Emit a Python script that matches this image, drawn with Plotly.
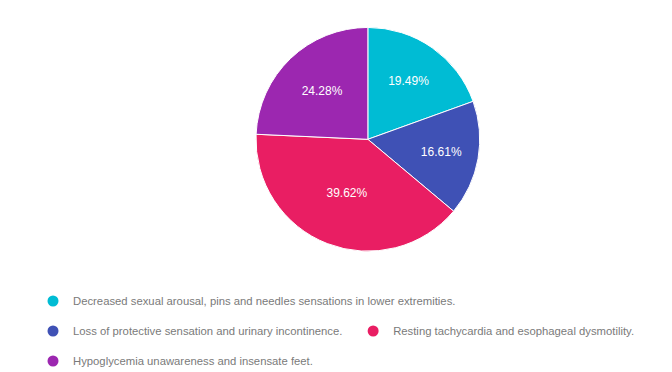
import plotly.graph_objects as go

labels = [
    "Decreased sexual arousal, pins and needles sensations in lower extremities.",
    "Loss of protective sensation and urinary incontinence.",
    "Resting tachycardia and esophageal dysmotility.",
    "Hypoglycemia unawareness and insensate feet.",
]
values = [19.49, 16.61, 39.62, 24.28]
colors = ["#00BCD4", "#3F51B5", "#E91E63", "#9C27B0"]

legend_names = ["legend", "legend2", "legend3", "legend4"]
legend_pos = [(0.0372, 0.2124), (0.0372, 0.1317), (0.5136, 0.1317), (0.0372, 0.0511)]

fig = go.Figure()
fig.add_trace(go.Pie(
    labels=labels,
    values=values,
    marker=dict(colors=colors, line=dict(color="white", width=1)),
    sort=False,
    direction="clockwise",
    rotation=0,
    texttemplate="%{percent:.2%}",
    textposition="inside",
    insidetextfont=dict(color="white", size=12, family="Liberation Sans, Arial"),
    showlegend=False,
    domain=dict(x=[0.369, 0.702], y=[0.346, 0.948]),
    hoverinfo="label+percent",
))

for lab, col, lg in zip(labels, colors, legend_names):
    fig.add_trace(go.Scatter(
        x=[None], y=[None], mode="markers", name=lab,
        marker=dict(color=col, size=11, symbol="circle"),
        legend=lg, showlegend=True,
    ))

legend_common = dict(
    orientation="h", xanchor="left", yanchor="middle",
    font=dict(family="Liberation Sans, Arial", size=11.3, color="#7a7a7a"),
    bgcolor="rgba(0,0,0,0)", borderwidth=0, itemclick=False,
)
layout_legends = {}
for lg, (lx, ly) in zip(legend_names, legend_pos):
    layout_legends[lg] = dict(x=lx, y=ly, **legend_common)

fig.update_layout(
    width=672, height=372,
    margin=dict(l=0, r=0, t=0, b=0),
    paper_bgcolor="white", plot_bgcolor="white",
    xaxis=dict(visible=False), yaxis=dict(visible=False),
    **layout_legends,
)

fig.write_html("out.html")
